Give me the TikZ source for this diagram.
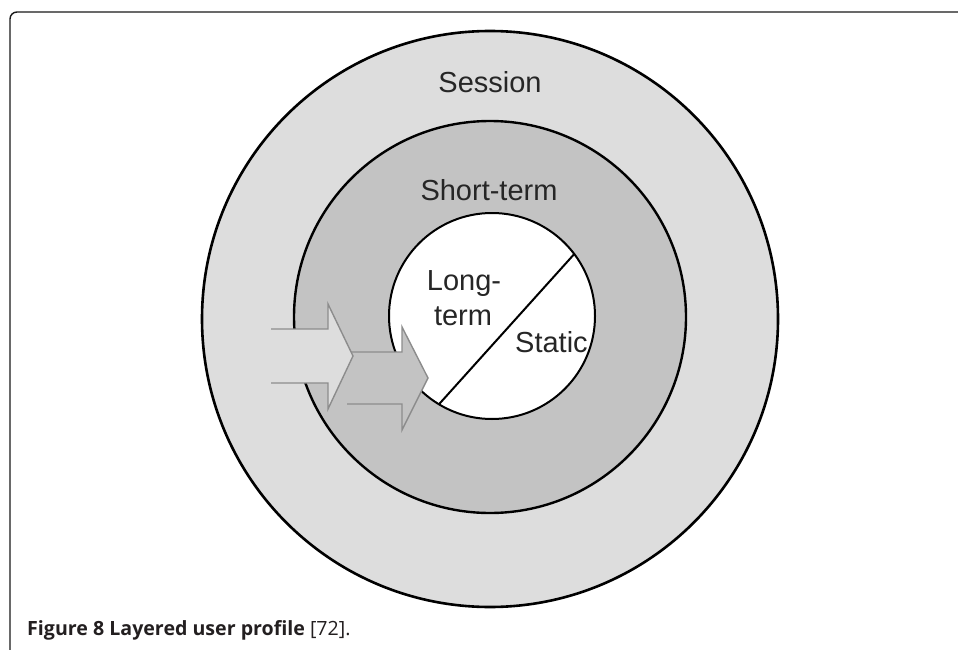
\documentclass[tikz,border=0pt]{standalone}
\usepackage{fontspec}
\setmainfont{Liberation Sans}
\newfontfamily\capfont{Open Sans}
\definecolor{ringouter}{HTML}{DDDDDD}
\definecolor{ringmid}{HTML}{C3C3C3}
\definecolor{arrowline}{HTML}{8C8C8C}
\definecolor{captext}{HTML}{231F20}
\begin{document}
\begin{tikzpicture}[x=1pt,y=-1pt,
  layer/.style={circle, draw=black, inner sep=0pt, outer sep=0pt},
  lbl/.style={font=\fontsize{29}{35}\selectfont, text=black!85, inner sep=0pt, anchor=base},
  arrowedge/.style={draw=arrowline, line width=1.4pt, line join=miter}]
\useasboundingbox (0,0) rectangle (958,650);

% page frame
\draw[line width=1.4pt, black!90, rounded corners=7pt] (10,652) -- (10,12) -- (960,12);

% the three layers
\node[layer, fill=ringouter, line width=2.6pt, minimum size=576pt] (session) at (490,319) {};
\node[layer, fill=ringmid, line width=2.4pt, minimum size=392pt] (shortterm) at (490,317) {};
\node[layer, fill=white, line width=2pt, minimum size=206pt] (inner) at (492,316) {};
\draw[line width=2pt] (inner.37) -- (inner.239);

% labels
\node[lbl] (lsession) at (490,93) {Session};
\node[lbl] (lshort) at (489,200) {Short-term};
\node[lbl] (llong) at (464,290) {Long-};
\node[lbl] (lterm) at (463,325) {term};
\node[lbl, anchor=base west] (lstatic) at (515,352) {Static};

% second arrow (into the core)
\fill[ringmid] (347,352) -- (402,352) -- (402,327) -- (428,378) -- (402,430) -- (402,404) -- (347,404) -- cycle;
\draw[arrowedge] (347,352) -- (402,352) -- (402,327) -- (428,378) -- (402,430) -- (402,404) -- (347,404);

% first arrow (into the short-term layer)
\fill[ringouter] (271,329) -- (328,329) -- (328,304) -- (353,356) -- (328,409) -- (328,383) -- (271,383) -- cycle;
\draw[arrowedge] (271,329) -- (328,329) -- (328,304) -- (353,356) -- (328,409) -- (328,383) -- (271,383);

% caption
\node[anchor=base west, inner sep=0pt, text=captext, font=\capfont\fontsize{19.6}{23}\selectfont] (caption) at (27,635)
  {\textbf{Figure 8 Layered user profile} [72].};
\end{tikzpicture}
\end{document}
